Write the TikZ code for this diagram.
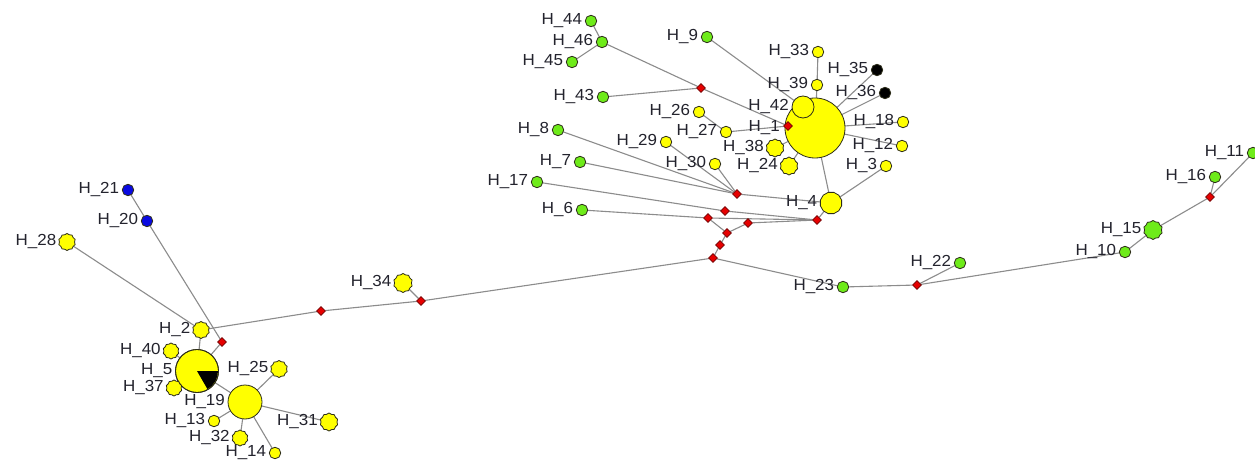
\documentclass[tikz,border=0pt]{standalone}
\usepackage{fontspec}
\setmainfont{Liberation Sans}[FakeStretch=1.06]
\usetikzlibrary{shapes.geometric,backgrounds}
\definecolor{hyel}{RGB}{255,255,0}
\definecolor{hgrn}{RGB}{110,235,25}
\definecolor{hblu}{RGB}{10,10,225}
\definecolor{hred}{RGB}{230,0,0}
\definecolor{rim}{RGB}{45,45,25}
\definecolor{link}{RGB}{140,140,140}
\definecolor{txt}{RGB}{35,35,45}
\tikzset{
  hap/.style={draw=rim, line width=0.8pt, inner sep=0pt, outer sep=0pt},
  sm/.style={hap, regular polygon, regular polygon sides=8, shape border rotate=22.5, minimum size=11.5pt},
  md/.style={hap, star, star points=10, star point ratio=1.12, minimum size=#1},
  md/.default=17pt,
  bigc/.style={hap, circle, minimum size=#1},
  bigc/.default=40pt,
  yl/.style={fill=hyel},
  gr/.style={fill=hgrn},
  bl/.style={fill=hblu},
  bk/.style={fill=black},
  mv/.style={draw=red!45!black, fill=hred, diamond, line width=0.6pt, inner sep=0pt, minimum size=9pt},
  lbl/.style={text=txt, font=\fontsize{16}{16}\selectfont, inner sep=0pt},
  ln/.style={draw=link, line width=1.1pt}
}
\begin{document}
\begin{tikzpicture}[x=1pt,y=-1pt,label distance=3pt]
\useasboundingbox (0,0) rectangle (1255,462);

% ---- left cluster ----
\node[sm,bl,label={[lbl]left:H\_21}] (h21) at (128,190) {};
\node[sm,bl,label={[lbl]left:H\_20}] (h20) at (147,221) {};
\node[md=17pt,yl,label={[lbl]left:H\_28}] (h28) at (67,242) {};
\node[md=17pt,yl,label={[lbl]left:H\_2}] (h2) at (201,330) {};
\node[mv] (o) at (222,342) {};
\node[bigc=43pt,yl,label={[lbl]left:H\_5}] (h5) at (197,371) {};
\fill[black] (h5.center) -- ++(0:21pt) arc[start angle=0,end angle=-60,radius=21pt] -- cycle;
\draw[rim,line width=0.8pt] (h5) circle[radius=21.5pt];
\node[md=16pt,yl,label={[lbl]left:H\_40}] (h40) at (171,351) {};
\node[md=16pt,yl,label={[lbl]left:H\_37}] (h37) at (174,388) {};
\node[bigc=34pt,yl,label={[lbl]left:H\_19}] (h19) at (245,402) {};
\node[md=17pt,yl,label={[lbl]left:H\_25}] (h25) at (279,369) {};
\node[md=18pt,yl,label={[lbl]left:H\_31}] (h31) at (329,422) {};
\node[sm,yl,label={[lbl]left:H\_13}] (h13) at (214,421) {};
\node[md=16pt,yl,label={[lbl]left:H\_32}] (h32) at (240,438) {};
\node[sm,yl,label={[lbl]left:H\_14}] (h14) at (275,453) {};
\node[md=19pt,yl,label={[lbl]left:H\_34}] (h34) at (403,283) {};
\node[mv] (l) at (321,311) {};
\node[mv] (k) at (421,301) {};

% ---- central median chain ----
\node[mv] (g) at (713,258) {};
\node[mv] (f) at (720,245) {};
\node[mv] (e) at (727,233) {};
\node[mv] (c) at (708,218) {};
\node[mv] (d) at (748,223) {};
\node[mv] (b) at (725,211) {};
\node[mv] (a) at (737,194) {};
\node[mv] (m4) at (817,220) {};

% ---- upper cluster ----
\node[sm,gr,label={[lbl]left:H\_44}] (h44) at (591,21) {};
\node[sm,gr,label={[lbl]left:H\_46}] (h46) at (602,42) {};
\node[sm,gr,label={[lbl]left:H\_45}] (h45) at (572,62) {};
\node[sm,gr,label={[lbl]left:H\_9}] (h9) at (707,37) {};
\node[sm,gr,label={[lbl]left:H\_43}] (h43) at (603,97) {};
\node[mv] (j) at (701,88) {};
\node[sm,gr,label={[lbl]left:H\_8}] (h8) at (558,130) {};
\node[sm,gr,label={[lbl]left:H\_7}] (h7) at (580,162) {};
\node[sm,gr,label={[lbl]left:H\_17}] (h17) at (537,182) {};
\node[sm,gr,label={[lbl]left:H\_6}] (h6) at (582,210) {};
\node[sm,yl,label={[lbl]left:H\_26}] (h26) at (699,112) {};
\node[sm,yl,label={[lbl]left:H\_27}] (h27) at (726,132) {};
\node[sm,yl,label={[lbl]left:H\_29}] (h29) at (666,142) {};
\node[sm,yl,label={[lbl]left:H\_30}] (h30) at (715,164) {};
\node[md=18pt,yl,label={[lbl]left:H\_38}] (h38) at (775,148) {};
\node[md=18pt,yl,label={[lbl]left:H\_24}] (h24) at (789,166) {};
\node[bigc=60pt,yl,label={[lbl,xshift=-2pt]left:H\_1}] (h1) at (815,128) {};
\node[bigc=22pt,yl,label={[lbl]left:H\_42}] (h42) at (803,107) {};
\node[mv] (i) at (788,126) {};
\node[sm,yl,label={[lbl]left:H\_39}] (h39) at (817,85) {};
\node[sm,yl,label={[lbl]left:H\_33}] (h33) at (818,52) {};
\node[sm,bk,label={[lbl]left:H\_35}] (h35) at (877,70) {};
\node[sm,bk,label={[lbl]left:H\_36}] (h36) at (885,93) {};
\node[sm,yl,label={[lbl]left:H\_18}] (h18) at (903,122) {};
\node[sm,yl,label={[lbl]left:H\_12}] (h12) at (902,146) {};
\node[sm,yl,label={[lbl]left:H\_3}] (h3) at (886,166) {};
\node[hap,yl,regular polygon,regular polygon sides=12,minimum size=22pt,label={[lbl]left:H\_4}] (h4) at (831,203) {};

% ---- right branch ----
\node[sm,gr,label={[lbl]left:H\_23}] (h23) at (843,287) {};
\node[mv] (mm) at (917,285) {};
\node[sm,gr,label={[lbl]left:H\_22}] (h22) at (960,263) {};
\node[sm,gr,label={[lbl]left:H\_10}] (h10) at (1125,252) {};
\node[md=19pt,gr,label={[lbl]left:H\_15}] (h15) at (1153,230) {};
\node[mv] (n) at (1210,197) {};
\node[sm,gr,label={[lbl]left:H\_16}] (h16) at (1215,177) {};
\node[sm,gr,label={[lbl]left:H\_11}] (h11) at (1253,153) {};

% ---- connectors, drawn beneath the haplotypes ----
\begin{pgfonlayer}{background}
\fill[white] (0,0) rectangle (1255,462);
\draw[ln] (h21) -- (h20) -- (o) -- (h5);
\draw[ln] (h28) -- (h2) -- (h5);
\draw[ln] (h2) -- (l) -- (k) -- (g);
\draw[ln] (k) -- (h34);
\draw[ln] (h5) -- (h40);
\draw[ln] (h5) -- (h37);
\draw[ln] (h5) -- (h19);
\foreach \t in {h25,h31,h13,h32,h14} \draw[ln] (h19) -- (\t);
\draw[ln] (g) -- (f) -- (e) -- (c) -- (h6);
\draw[ln] (e) -- (d) -- (m4);
\draw[ln] (c) -- (m4);
\draw[ln] (h17) -- (b) -- (m4);
\draw[ln] (m4) -- (h4);
\foreach \t in {h8,h7,h30,h29} \draw[ln] (a) -- (\t);
\draw[ln] (a) -- (h4);
\draw[ln] (h4) -- (h3);
\draw[ln] (h4) -- (h1);
\draw[ln] (h1) -- (i) -- (j) -- (h43);
\draw[ln] (j) -- (h46) -- (h44);
\draw[ln] (h46) -- (h45);
\draw[ln] (i) -- (h27) -- (h26);
\draw[ln] (h9) -- (h42) -- (h1);
\draw[ln] (h33) -- (h39) -- (h1);
\foreach \t in {h35,h36,h18,h12,h38,h24} \draw[ln] (h1) -- (\t);
\draw[ln] (g) -- (h23) -- (mm) -- (h22);
\draw[ln] (mm) -- (h10) -- (h15) -- (n) -- (h16);
\draw[ln] (n) -- (h11);
\end{pgfonlayer}
\end{tikzpicture}
\end{document}
